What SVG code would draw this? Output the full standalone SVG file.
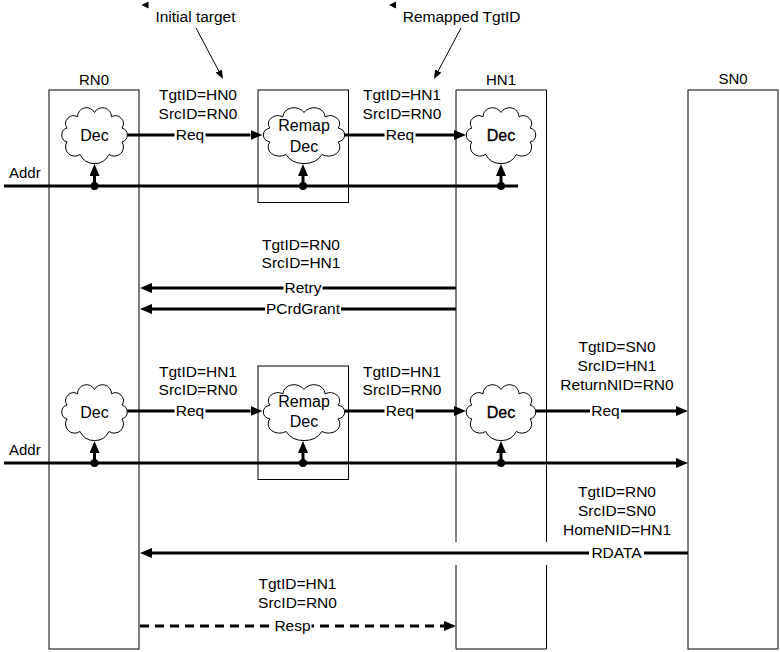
<svg xmlns="http://www.w3.org/2000/svg" xmlns:xlink="http://www.w3.org/1999/xlink" width="780" height="652" viewBox="0 0 780 652">
<style>
text{font-family:"Liberation Sans",Arial,sans-serif;font-size:15.5px;fill:#000}
.c{text-anchor:middle}
.t{font-size:15px}
.big{font-size:16px}
.bold{stroke:#000;stroke-width:0.35}
.box{fill:#fff;stroke:#000;stroke-width:1}
.edge{fill:none;stroke:#000;stroke-width:1}
.w{fill:none;stroke:#000;stroke-width:3}
.dash{stroke-dasharray:9 6}
.thin{fill:none;stroke:#000;stroke-width:1}
.bg{fill:#fff}
.cloud{fill:#fff;stroke:#000;stroke-width:1}
</style>
<defs>
<marker id="ah" viewBox="0 0 12 10" markerWidth="12" markerHeight="10" refX="0" refY="5" orient="auto" markerUnits="userSpaceOnUse"><path d="M0,0 L12,5 L0,10 z" fill="#000"/></marker>
<marker id="ahs" viewBox="0 0 9 7" markerWidth="9" markerHeight="7" refX="0" refY="3.5" orient="auto" markerUnits="userSpaceOnUse"><path d="M0,0 L9,3.5 L0,7 z" fill="#000"/></marker>
<path id="cloudShape" class="cloud" vector-effect="non-scaling-stroke" d="M-27.48,-6.94 A7.9,7.9 0 0 1 -16.98,-18.18 A9,9 0 0 1 0,-22.47 A9,9 0 0 1 16.98,-18.18 A7.9,7.9 0 0 1 27.48,-6.94 A7.2,7.2 0 0 1 27.48,6.94 A9.2,9.2 0 0 1 14.45,19.46 A16,16 0 0 1 -14.45,19.46 A9.2,9.2 0 0 1 -27.48,6.94 A7.2,7.2 0 0 1 -27.48,-6.94 Z"/>
</defs>
<rect width="780" height="652" fill="#fff"/>

<!-- lifeline boxes -->
<g id="RN0">
<rect class="box" x="49" y="90" width="90" height="559"/>
<text class="c t" x="94" y="85">RN0</text>
</g>
<g id="HN1">
<rect x="456" y="90" width="90.5" height="559" fill="#fff"/>
<path class="edge" d="M456,542 V90 H546.5 V542 M546.5,565 V649 H456 V565"/>
<text class="c t" x="501" y="85">HN1</text>
</g>
<g id="SN0">
<rect class="box" x="688" y="90" width="90" height="559"/>
<text class="c t" x="733" y="84">SN0</text>
</g>
<g id="Remap1">
<rect class="box" x="258" y="90" width="90.5" height="112.5"/>
</g>
<g id="Remap2">
<rect class="box" x="258" y="366" width="90.5" height="113.5"/>
</g>

<!-- connectors -->
<g id="connectors">
<path class="w" d="M127.3,135 H250.5" marker-end="url(#ah)"/>
<path class="w" d="M344.7,135 H454" marker-end="url(#ah)"/>
<path class="w" d="M4,186 H518"/>
<path class="w" d="M94.5,186 V176" marker-end="url(#ah)"/>
<path class="w" d="M303,186 V176" marker-end="url(#ah)"/>
<path class="w" d="M501,186 V176" marker-end="url(#ah)"/>
<circle cx="94.5" cy="186" r="4"/>
<circle cx="303" cy="186" r="4"/>
<circle cx="501" cy="186" r="4"/>

<path class="w" d="M456,288 H152" marker-end="url(#ah)"/>
<path class="w" d="M456,309 H152" marker-end="url(#ah)"/>

<path class="w" d="M127.3,411 H250.5" marker-end="url(#ah)"/>
<path class="w" d="M344.7,411 H454" marker-end="url(#ah)"/>
<path class="w" d="M535.8,411 H676" marker-end="url(#ah)"/>
<path class="w" d="M4,463 H676" marker-end="url(#ah)"/>
<path class="w" d="M94.5,463 V453" marker-end="url(#ah)"/>
<path class="w" d="M303,463 V453" marker-end="url(#ah)"/>
<path class="w" d="M501,463 V453" marker-end="url(#ah)"/>
<circle cx="94.5" cy="463" r="4"/>
<circle cx="303" cy="463" r="4"/>
<circle cx="501" cy="463" r="4"/>

<path class="w" d="M688,553 H152" marker-end="url(#ah)"/>
<path class="w dash" d="M140,626 H444" marker-end="url(#ah)"/>

<path class="thin" d="M196,28 L218.8,71" marker-end="url(#ahs)"/>
<path class="thin" d="M461,28 L438.2,71" marker-end="url(#ahs)"/>
</g>

<!-- clouds -->
<g id="DecRN0a"><use xlink:href="#cloudShape" transform="translate(94.5,135)"/><text class="c big" x="94.5" y="140.5">Dec</text></g>
<g id="RemapDec1"><use xlink:href="#cloudShape" transform="translate(304,135) scale(1.24,1)"/><text class="c big" x="304" y="131">Remap</text><text class="c big" x="304" y="152">Dec</text></g>
<g id="DecHN1a"><use xlink:href="#cloudShape" transform="translate(501,135) scale(1.06,1)"/><text class="c big bold" x="501" y="140.5">Dec</text></g>
<g id="DecRN0b"><use xlink:href="#cloudShape" transform="translate(94.5,412)"/><text class="c big" x="94.5" y="417.5">Dec</text></g>
<g id="RemapDec2"><use xlink:href="#cloudShape" transform="translate(304,412) scale(1.24,1)"/><text class="c big" x="304" y="407">Remap</text><text class="c big" x="304" y="427">Dec</text></g>
<g id="DecHN1b"><use xlink:href="#cloudShape" transform="translate(501,412) scale(1.06,1)"/><text class="c big bold" x="501" y="417.5">Dec</text></g>

<!-- labels -->
<g id="labels">
<text class="c" x="195.5" y="21.5">Initial target</text>
<polygon points="141.5,5 148.5,1.5 148.5,8.5"/>
<text class="c" x="461.6" y="21.5">Remapped TgtID</text>
<polygon points="389,5 396,1.5 396,8.5"/>
<text class="t" x="9" y="178">Addr</text>
<text class="t" x="9" y="455">Addr</text>

<text class="c" x="198" y="100">TgtID=HN0</text>
<text class="c" x="198" y="118.5">SrcID=RN0</text>
<rect class="bg" x="174.5" y="127" width="31" height="17"/>
<text class="c" x="190" y="140">Req</text>

<text class="c" x="402" y="100">TgtID=HN1</text>
<text class="c" x="402" y="118.5">SrcID=RN0</text>
<rect class="bg" x="384.5" y="127" width="31" height="17"/>
<text class="c" x="400" y="140">Req</text>

<text class="c" x="301" y="249.5">TgtID=RN0</text>
<text class="c" x="301" y="268">SrcID=HN1</text>
<rect class="bg" x="283.5" y="280" width="39" height="17"/>
<text class="c" x="303" y="293">Retry</text>
<rect class="bg" x="265" y="301" width="76" height="17"/>
<text class="c" x="303" y="314">PCrdGrant</text>

<text class="c" x="198" y="376.5">TgtID=HN1</text>
<text class="c" x="198" y="395">SrcID=RN0</text>
<rect class="bg" x="174.5" y="403" width="31" height="17"/>
<text class="c" x="190" y="416">Req</text>

<text class="c" x="402" y="376.5">TgtID=HN1</text>
<text class="c" x="402" y="395">SrcID=RN0</text>
<rect class="bg" x="384.5" y="403" width="31" height="17"/>
<text class="c" x="400" y="416">Req</text>

<text class="c" x="617" y="352">TgtID=SN0</text>
<text class="c" x="617" y="371">SrcID=HN1</text>
<text class="c" x="617" y="390">ReturnNID=RN0</text>
<rect class="bg" x="590" y="403" width="31" height="17"/>
<text class="c" x="605.5" y="416">Req</text>

<text class="c" x="617" y="497">TgtID=RN0</text>
<text class="c" x="617" y="516">SrcID=SN0</text>
<text class="c" x="617" y="534.5">HomeNID=HN1</text>
<rect class="bg" x="589" y="545" width="55" height="17"/>
<text class="c" x="616.5" y="558">RDATA</text>

<text class="c" x="297.5" y="588.5">TgtID=HN1</text>
<text class="c" x="297.5" y="607.5">SrcID=RN0</text>
<rect class="bg" x="273.5" y="618" width="38" height="17"/>
<text class="c" x="292.5" y="631">Resp</text>
</g>
</svg>
